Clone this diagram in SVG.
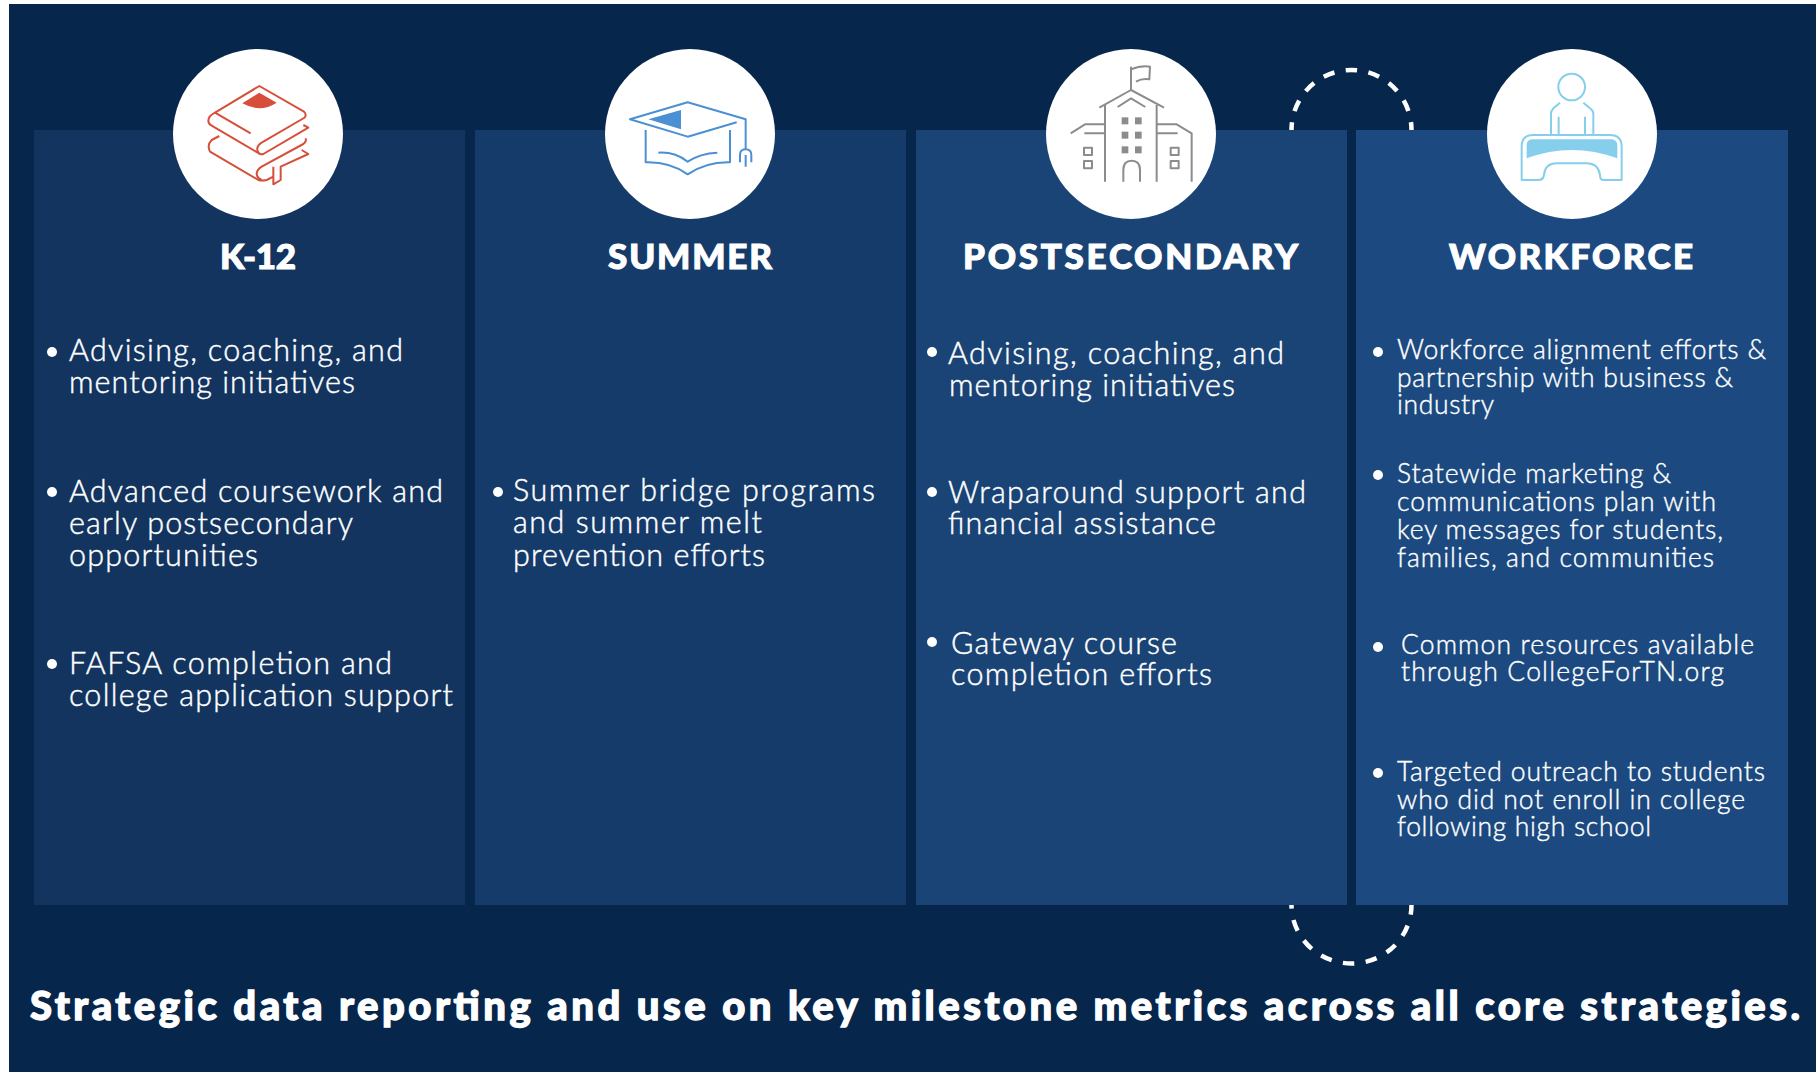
<svg xmlns="http://www.w3.org/2000/svg" width="1816" height="1072" viewBox="0 0 1816 1072">
<style>
.t{font-family:"Lato","Liberation Sans",sans-serif;fill:#fff}
.h{font-size:35px;font-weight:900;stroke:#fff;stroke-width:1.1px}
.b{font-size:30.5px;font-weight:300;stroke:#fff;stroke-width:.45px}
.s{font-size:26.5px;font-weight:300;stroke:#fff;stroke-width:.4px}
.f{font-size:40px;font-weight:900;stroke:#fff;stroke-width:1.3px}
.ic{fill:none;stroke-width:6;stroke-linecap:butt;stroke-linejoin:round}
.dash{fill:none;stroke:#fff;stroke-width:4.5;stroke-dasharray:11.5 11.5}
</style>
<rect width="1816" height="1072" fill="#fff"/>
<rect x="9" y="4" width="1807" height="1068" fill="#06264c"/>
<g id="connectors">
<path class="dash" stroke-dashoffset="-19.25" d="M1291.5,130A60,60 0 0 1 1411.5,130"/>
<path class="dash" stroke-dashoffset="-15.25" d="M1291.5,905A60,58.5 0 0 0 1411.5,905"/>
</g>
<g id="k12">
<rect x="34" y="130" width="431" height="775" fill="#12345f"/>
<circle cx="258" cy="134" r="85" fill="#fff"/>
<g transform="translate(160,30) scale(.33333)">
<g class="ic" stroke="#d64f3b">
<path d="M272,310L165,248L298,168L432,245Q442,255 432,264L310,335Q290,345 292,360Q295,375 310,372L445,293L430,285"/>
<path d="M165,248Q145,258 145,272Q145,282 155,287L300,372"/>
<path d="M178,318L155,330Q140,345 150,365L295,450Q305,453 320,450L340,440"/>
<path d="M437,325Q440,335 430,342L305,410Q290,420 290,432Q292,445 305,450"/>
<path d="M340,410L340,463L362,450L362,410L445,372L425,360"/>
</g>
<path d="M298,188L350,218Q300,250 247,220Z" fill="#d64f3b"/>
</g>
<g transform="translate(0,1)">
<text class="t h" x="220" y="268" textLength="76">K-12</text>
<circle cx="52" cy="351" r="5" fill="#fff"/><circle cx="52" cy="491" r="5" fill="#fff"/><circle cx="52" cy="663" r="5" fill="#fff"/>
<text class="t b" x="69" y="360" textLength="334">Advising, coaching, and</text>
<text class="t b" x="69" y="392" textLength="286">mentoring initiatives</text>
<text class="t b" x="69" y="501" textLength="374">Advanced coursework and</text>
<text class="t b" x="69" y="533" textLength="284">early postsecondary</text>
<text class="t b" x="69" y="565" textLength="189">opportunities</text>
<text class="t b" x="69" y="673" textLength="323">FAFSA completion and</text>
<text class="t b" x="69" y="705" textLength="384">college application support</text>
</g>
</g>
<g id="summer">
<rect x="475" y="130" width="431" height="775" fill="#153b6b"/>
<circle cx="690" cy="134" r="85" fill="#fff"/>
<g transform="translate(590,30) scale(.33333)">
<g class="ic" stroke="#4a90d2">
<path d="M440,277L293,320L120,268L293,217L467,268L467,358"/>
<path d="M167,300L167,397Q240,395 293,433Q350,395 420,397L420,300"/>
<path d="M205,368Q255,365 293,395Q330,370 382,368"/>
<path d="M450,397L450,375Q450,358 467,358Q484,358 484,375L484,397M467,375L467,410"/>
</g>
<path d="M175,268L273,240L273,298Z" fill="#4a90d2"/>
</g>
<g transform="translate(0,1)">
<text class="t h" x="608" y="268" textLength="164">SUMMER</text>
<circle cx="498" cy="491" r="5" fill="#fff"/>
<text class="t b" x="513" y="500" textLength="362">Summer bridge programs</text>
<text class="t b" x="513" y="532" textLength="249">and summer melt</text>
<text class="t b" x="513" y="565" textLength="252">prevention efforts</text>
</g>
</g>
<g id="postsecondary">
<rect x="916" y="130" width="431" height="775" fill="#1a4475"/>
<circle cx="1131" cy="134" r="85" fill="#fff"/>
<g transform="translate(1030,30) scale(.33333)">
<g class="ic" stroke="#8a8c8e">
<path d="M303,180L303,110M303,118Q335,105 360,110L358,148Q335,145 318,155"/>
<path d="M208,233L303,180L402,233M263,231L303,205L346,231"/>
<path d="M225,225L225,455M380,225L380,455"/>
<path d="M280,455L280,420Q280,392 305,392Q330,392 330,420L330,455"/>
<path d="M122,310L165,283L225,283M163,310L225,310"/>
<path d="M380,283L440,283L485,310L485,455M380,310L443,310"/>
<rect x="162" y="353" width="24" height="22"/><rect x="162" y="393" width="24" height="22"/>
<rect x="422" y="353" width="24" height="22"/><rect x="422" y="393" width="24" height="22"/>
</g>
<g fill="#8a8c8e">
<rect x="275" y="262" width="20" height="21"/><rect x="315" y="262" width="20" height="21"/>
<rect x="275" y="305" width="20" height="21"/><rect x="315" y="305" width="20" height="21"/>
<rect x="275" y="349" width="20" height="21"/><rect x="315" y="349" width="20" height="21"/>
</g>
</g>
<g transform="translate(0,1)">
<text class="t h" x="963" y="268" textLength="335">POSTSECONDARY</text>
<circle cx="932" cy="351" r="5" fill="#fff"/><circle cx="932" cy="491" r="5" fill="#fff"/><circle cx="932" cy="641" r="5" fill="#fff"/>
<text class="t b" x="948" y="363" textLength="336">Advising, coaching, and</text>
<text class="t b" x="949" y="395" textLength="286">mentoring initiatives</text>
<text class="t b" x="948" y="502" textLength="358">Wraparound support and</text>
<text class="t b" x="948" y="533" textLength="268">financial assistance</text>
<text class="t b" x="951" y="653" textLength="226">Gateway course</text>
<text class="t b" x="951" y="684" textLength="261">completion efforts</text>
</g>
</g>
<g id="workforce">
<rect x="1356" y="130" width="432" height="775" fill="#1c4a80"/>
<circle cx="1572" cy="134" r="85" fill="#fff"/>
<g transform="translate(1270,30) scale(.33333)">
<g class="ic" stroke="#85cfec">
<circle cx="905" cy="171" r="40"/>
<path d="M870,218L850,235Q843,243 843,250L843,315M940,218L960,235Q970,243 970,250L970,315M866,260L866,315M945,260L945,315"/>
<path d="M755,450L755,350Q755,315 790,315L1020,315Q1055,315 1055,350L1055,450L1000,450Q990,450 990,435Q985,400 950,400L860,400Q825,400 822,435Q820,450 805,450Z"/>
</g>
<path d="M770,385L770,345Q770,328 790,328L1020,328Q1042,328 1042,345L1042,385Q905,335 770,385Z" fill="#85cfec"/>
</g>
<g transform="translate(0,1)">
<text class="t h" x="1449" y="268" textLength="244">WORKFORCE</text>
<circle cx="1378" cy="351" r="5" fill="#fff"/><circle cx="1378" cy="474" r="5" fill="#fff"/><circle cx="1378" cy="646" r="5" fill="#fff"/><circle cx="1378" cy="772" r="5" fill="#fff"/>
<text class="t s" x="1397" y="358" textLength="369">Workforce alignment efforts &amp;</text>
<text class="t s" x="1397" y="386" textLength="336">partnership with business &amp;</text>
<text class="t s" x="1397" y="413" textLength="97">industry</text>
<text class="t s" x="1397" y="482" textLength="274">Statewide marketing &amp;</text>
<text class="t s" x="1397" y="510" textLength="319">communications plan with</text>
<text class="t s" x="1397" y="538" textLength="326">key messages for students,</text>
<text class="t s" x="1397" y="566" textLength="317">families, and communities</text>
<text class="t s" x="1401" y="653" textLength="353">Common resources available</text>
<text class="t s" x="1401" y="680" textLength="323">through CollegeForTN.org</text>
<text class="t s" x="1397" y="780" textLength="368">Targeted outreach to students</text>
<text class="t s" x="1397" y="808" textLength="348">who did not enroll in college</text>
<text class="t s" x="1397" y="835" textLength="254">following high school</text>
</g>
</g>
<text id="footer" class="t f" x="30" y="1020" textLength="1770">Strategic data reporting and use on key milestone metrics across all core strategies.</text>
</svg>
